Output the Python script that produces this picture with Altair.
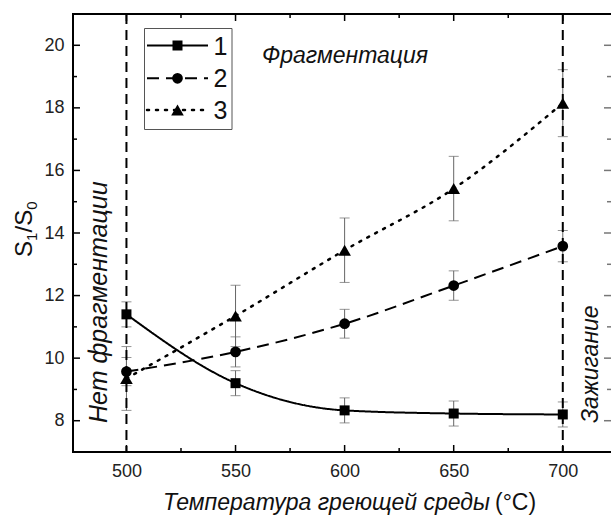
import altair as alt
import pandas as pd

# ---- data ----
temps = [500, 550, 600, 650, 700]
s1 = [11.40, 9.20, 8.33, 8.23, 8.20]
e1 = [0.40, 0.40, 0.40, 0.40, 0.40]
s2 = [9.57, 10.20, 11.10, 12.32, 13.58]
e2 = [0.45, 0.48, 0.46, 0.47, 0.50]
s3 = [9.35, 11.35, 13.45, 15.42, 18.15]
e3 = [1.02, 0.98, 1.03, 1.03, 1.07]

x_major = [500, 550, 600, 650, 700]
x_minor = [525, 575, 625, 675]
y_major = [8, 10, 12, 14, 16, 18, 20]
y_minor = [9, 11, 13, 15, 17, 19]
boundaries = [500, 700]

W, H = 538, 438
XD = [475.5, 722.1]
YD = [7, 21]
FONT = "Liberation Sans"

xs = alt.Scale(domain=XD, nice=False, zero=False)
ys = alt.Scale(domain=YD, nice=False, zero=False)
XAX = alt.Axis(values=x_major, ticks=False, domain=False, grid=False,
               labelFontSize=18, labelFont=FONT, labelColor="#222",
               labelPadding=10, title=None, format="d")
YAX = alt.Axis(values=y_major, ticks=False, domain=False, grid=False,
               labelFontSize=18, labelFont=FONT, labelColor="#222",
               labelPadding=9, title=None, format="d")

def X(f):
    return alt.X(f, scale=xs, axis=XAX)

def Y(f):
    return alt.Y(f, scale=ys, axis=YAX)

rows = []
for name, vals, errs in [("1", s1, e1), ("2", s2, e2), ("3", s3, e3)]:
    for t, v, e in zip(temps, vals, errs):
        rows.append({"t": t, "v": v, "lo": v - e, "hi": v + e, "s": name})
df = pd.DataFrame(rows)

def series(name):
    return alt.Chart(df).transform_filter(alt.datum.s == name)

layers = []

# error bars
err_color = "#666666"
layers.append(alt.Chart(df).mark_rule(color=err_color, strokeWidth=1).encode(
    x=X("t:Q"), y=Y("lo:Q"), y2="hi:Q"))
for col in ["lo", "hi"]:
    layers.append(alt.Chart(df).mark_tick(color=err_color, thickness=1, size=10, orient="horizontal").encode(
        x=X("t:Q"), y=Y(f"{col}:Q")))

# lines
styles = {
    "1": dict(strokeDash=[1, 0], strokeWidth=2),
    "2": dict(strokeDash=[12, 7], strokeWidth=2),
    "3": dict(strokeDash=[2, 7], strokeWidth=2.5, strokeCap="round"),
}
shapes = {"1": ("square", 100), "2": ("circle", 115), "3": ("triangle-up", 160)}
for name in ["1", "2", "3"]:
    layers.append(series(name).mark_line(color="black", interpolate="monotone", **styles[name]).encode(
        x=X("t:Q"), y=Y("v:Q")))
for name in ["1", "2", "3"]:
    shp, sz = shapes[name]
    layers.append(series(name).mark_point(shape=shp, size=sz, filled=True, color="black", opacity=1).encode(
        x=X("t:Q"), y=Y("v:Q")))

# vertical dashed boundaries
bdf = pd.DataFrame({"b": boundaries})
layers.append(alt.Chart(bdf).mark_rule(color="black", strokeWidth=2, strokeDash=[10, 6]).encode(
    x=X("b:Q"), y=alt.value(0), y2=alt.value(H)))

# inward ticks
for vals, ln in [(x_major, 7), (x_minor, 4)]:
    d = pd.DataFrame({"t": vals})
    layers.append(alt.Chart(d).mark_rule(color="black", strokeWidth=1.5).encode(
        x=X("t:Q"), y=alt.value(H), y2=alt.value(H - ln)))
    layers.append(alt.Chart(d).mark_rule(color="black", strokeWidth=1.5).encode(
        x=X("t:Q"), y=alt.value(0), y2=alt.value(ln)))
for vals, ln in [(y_major, 7), (y_minor, 4)]:
    d = pd.DataFrame({"v": vals})
    layers.append(alt.Chart(d).mark_rule(color="black", strokeWidth=1.5).encode(
        y=Y("v:Q"), x=alt.value(0), x2=alt.value(ln)))
    layers.append(alt.Chart(d).mark_rule(color="#777", strokeWidth=1.5).encode(
        y=Y("v:Q"), x=alt.value(W), x2=alt.value(W - ln)))

one = bdf.head(1)
# frame (left, top, bottom)
layers.append(alt.Chart(one).mark_rule(color="black", strokeWidth=2).encode(
    x=alt.value(0), x2=alt.value(W + 2), y=alt.value(0)))
layers.append(alt.Chart(one).mark_rule(color="black", strokeWidth=2).encode(
    x=alt.value(0), x2=alt.value(W + 2), y=alt.value(H)))
layers.append(alt.Chart(one).mark_rule(color="black", strokeWidth=2).encode(
    x=alt.value(0), y=alt.value(-1), y2=alt.value(H + 1)))

# legend box
layers.append(alt.Chart(one).mark_rect(fill="white", stroke="#555", strokeWidth=1).encode(
    x=alt.value(71.5), x2=alt.value(159), y=alt.value(14.5), y2=alt.value(115.5)))
leg_rows = [("1", 31.5), ("2", 64.3), ("3", 96)]
for name, yy in leg_rows:
    st = dict(styles[name])
    layers.append(alt.Chart(one).mark_rule(color="black", **st).encode(
        x=alt.value(74), x2=alt.value(135), y=alt.value(yy)))
    shp, sz = shapes[name]
    layers.append(alt.Chart(one).mark_point(shape=shp, size=sz, filled=True, color="black", opacity=1).encode(
        x=alt.value(104.5), y=alt.value(yy)))
    layers.append(alt.Chart(one).mark_text(text=name, font=FONT, fontSize=25, align="center",
                                           baseline="middle", color="#111").encode(
        x=alt.value(147.5), y=alt.value(yy + 1)))

# annotations
def txt(text, x, y, size=24, angle=0, italic=True, align="left", baseline="alphabetic"):
    kw = dict(text=text, font=FONT, fontSize=size, align=align, baseline=baseline, color="#111")
    if italic:
        kw["fontStyle"] = "italic"
    if angle:
        kw["angle"] = angle
    return alt.Chart(one).mark_text(**kw).encode(x=alt.value(x), y=alt.value(y))

layers.append(txt("Фрагментация", 189, 49, size=23))
layers.append(txt("Нет фрагментации", 34, 409, size=25, angle=270))
layers.append(txt("Зажигание", 525, 409, size=23, angle=270))

# x title
layers.append(txt("Температура греющей среды", 417, 496, size=23, align="right"))
layers.append(txt("(°C)", 422, 496, size=23, italic=False))

# y title S1/S0
layers.append(txt("S", -41, 243, angle=270, italic=False))
layers.append(txt("1", -36, 227, size=15, angle=270, italic=False))
layers.append(txt("/", -41, 218.5, angle=270, italic=False))
layers.append(txt("S", -41, 211.8, angle=270, italic=False))
layers.append(txt("0", -36, 195.8, size=15, angle=270, italic=False))

chart = alt.layer(*layers).properties(
    width=W, height=H,
    autosize=alt.AutoSizeParams(type="none"),
    padding={"left": 73, "top": 14, "right": 0, "bottom": 63},
    background="white",
).configure_view(stroke=None)

chart.save("out.html", embed_options={"renderer": "svg", "actions": False})
